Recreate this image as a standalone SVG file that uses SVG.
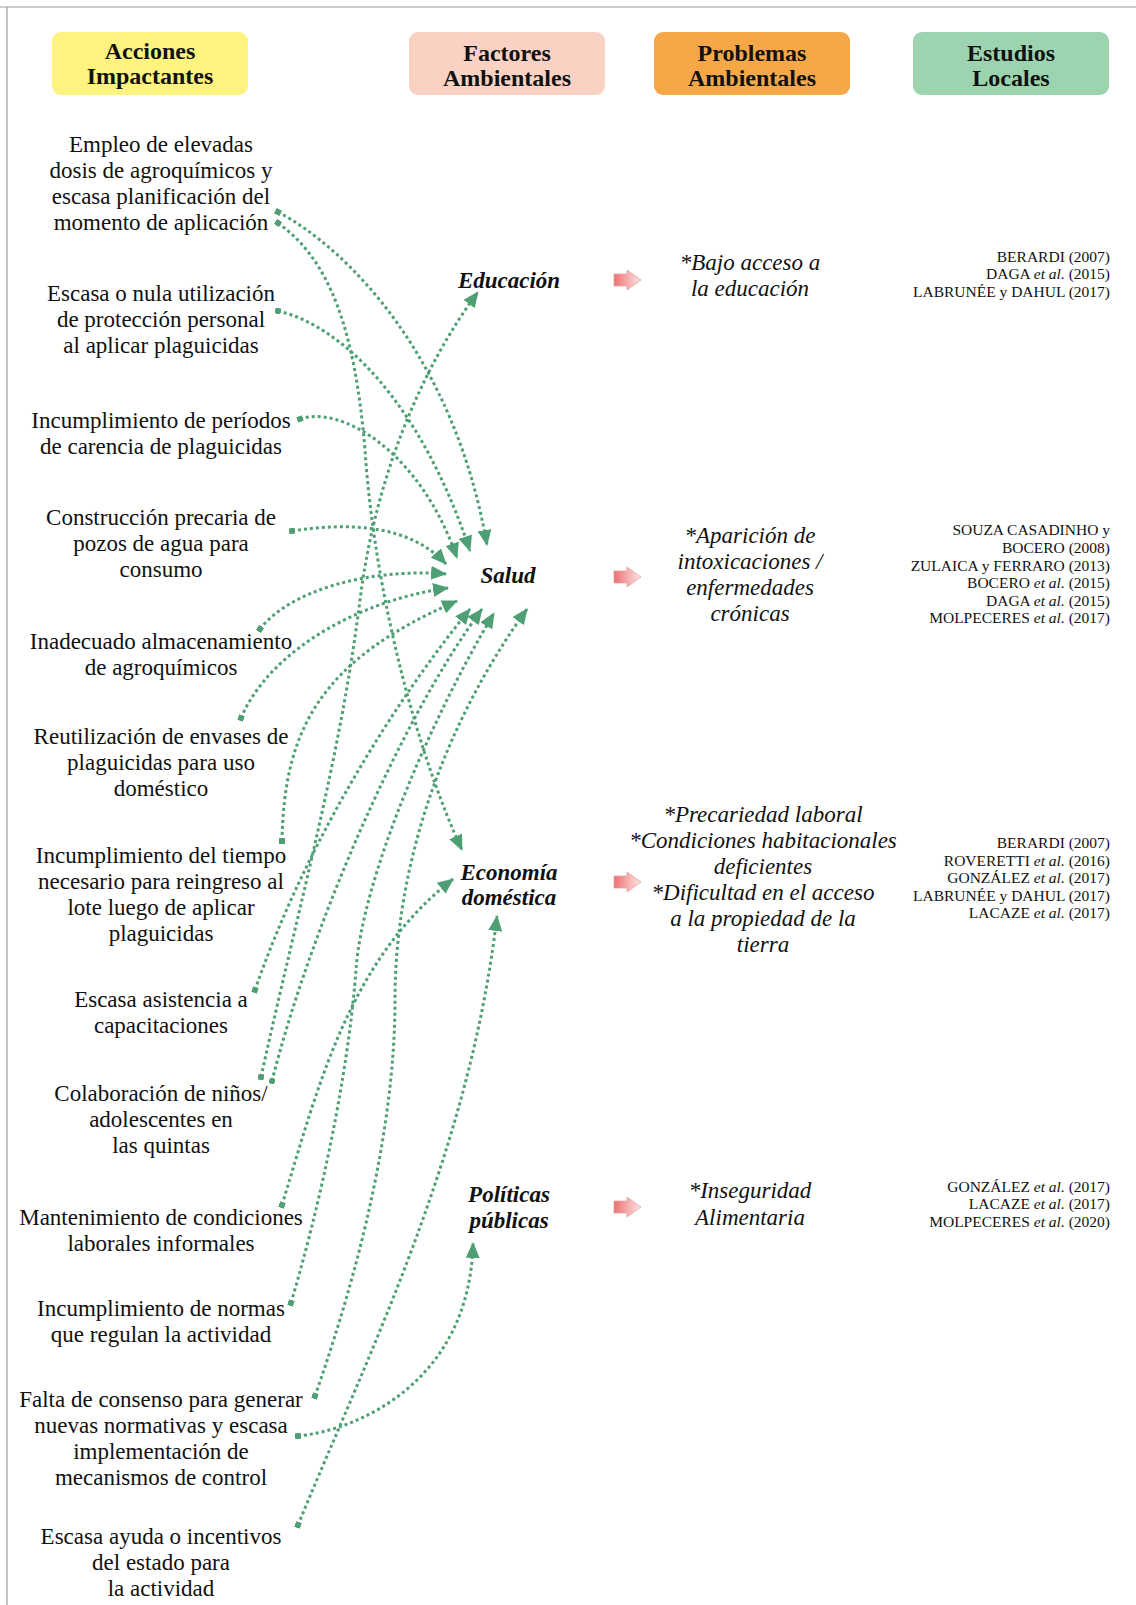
<svg xmlns="http://www.w3.org/2000/svg" width="1136" height="1605" viewBox="0 0 1136 1605">
<defs>
<style>
text{font-family:"Liberation Serif","Times New Roman",serif;fill:#111}
.h{font-size:24px;font-weight:bold;text-anchor:middle}
.t{font-size:23px;text-anchor:middle}
.f{font-size:23px;font-weight:bold;font-style:italic;text-anchor:middle}
.p{font-size:23px;font-style:italic;text-anchor:middle}
.s{font-size:15.5px;text-anchor:end}
.i{font-style:italic}
.c{fill:none;stroke:#4f9f74;stroke-width:3;stroke-dasharray:3 3;marker-start:url(#sq);marker-end:url(#ar)}
.pk{fill:url(#pk);stroke:#e3a2a2;stroke-width:0.8}
.fr{stroke:#9c9c9c;stroke-width:1.2}
</style>
<marker id="ar" viewBox="0 0 16 14" refX="15" refY="7" markerWidth="16" markerHeight="14" markerUnits="userSpaceOnUse" orient="auto"><path d="M0,0L16,7L0,14z" fill="#4f9f74"/></marker>
<marker id="sq" viewBox="0 0 6 6" refX="3" refY="3" markerWidth="6" markerHeight="6" markerUnits="userSpaceOnUse" orient="auto"><rect width="6" height="6" fill="#4f9f74"/></marker>
<linearGradient id="pk" x1="0" x2="1" y1="0" y2="0"><stop offset="0" stop-color="#ee6f6f"/><stop offset="1" stop-color="#fde8e8"/></linearGradient>
<path id="pa" d="M0,-6H13V-10L27,0L13,10V6H0Z"/>
</defs>
<rect width="1136" height="1605" fill="#fff"/>
<line class="fr" x1="0" y1="7" x2="1136" y2="7"/>
<line class="fr" x1="7" y1="7" x2="7" y2="1605"/>

<g id="hdr-acciones"><rect x="52" y="32" width="196" height="63" rx="9" fill="#fff380"/><text class="h" x="150" y="59">Acciones</text><text class="h" x="150" y="84">Impactantes</text></g>
<g id="hdr-factores"><rect x="409" y="32" width="196" height="63" rx="9" fill="#fad2c4"/><text class="h" x="507" y="61">Factores</text><text class="h" x="507" y="86">Ambientales</text></g>
<g id="hdr-problemas"><rect x="654" y="32" width="196" height="63" rx="9" fill="#f6a848"/><text class="h" x="752" y="61">Problemas</text><text class="h" x="752" y="86">Ambientales</text></g>
<g id="hdr-estudios"><rect x="913" y="32" width="196" height="63" rx="9" fill="#9cd4b0"/><text class="h" x="1011" y="61">Estudios</text><text class="h" x="1011" y="86">Locales</text></g>

<g id="act-empleo"><text class="t" x="161" y="152">Empleo de elevadas</text><text class="t" x="161" y="178">dosis de agroquímicos y</text><text class="t" x="161" y="204">escasa planificación del</text><text class="t" x="161" y="230">momento de aplicación</text></g>
<g id="act-proteccion"><text class="t" x="161" y="301">Escasa o nula utilización</text><text class="t" x="161" y="327">de protección personal</text><text class="t" x="161" y="353">al aplicar plaguicidas</text></g>
<g id="act-carencia"><text class="t" x="161" y="428">Incumplimiento de períodos</text><text class="t" x="161" y="454">de carencia de plaguicidas</text></g>
<g id="act-pozos"><text class="t" x="161" y="525">Construcción precaria de</text><text class="t" x="161" y="551">pozos de agua para</text><text class="t" x="161" y="577">consumo</text></g>
<g id="act-almacen"><text class="t" x="161" y="649">Inadecuado almacenamiento</text><text class="t" x="161" y="675">de agroquímicos</text></g>
<g id="act-envases"><text class="t" x="161" y="744">Reutilización de envases de</text><text class="t" x="161" y="770">plaguicidas para uso</text><text class="t" x="161" y="796">doméstico</text></g>
<g id="act-reingreso"><text class="t" x="161" y="863">Incumplimiento del tiempo</text><text class="t" x="161" y="889">necesario para reingreso al</text><text class="t" x="161" y="915">lote luego de aplicar</text><text class="t" x="161" y="941">plaguicidas</text></g>
<g id="act-capacitaciones"><text class="t" x="161" y="1007">Escasa asistencia a</text><text class="t" x="161" y="1033">capacitaciones</text></g>
<g id="act-ninos"><text class="t" x="161" y="1101">Colaboración de niños/</text><text class="t" x="161" y="1127">adolescentes en</text><text class="t" x="161" y="1153">las quintas</text></g>
<g id="act-informales"><text class="t" x="161" y="1225">Mantenimiento de condiciones</text><text class="t" x="161" y="1251">laborales informales</text></g>
<g id="act-normas"><text class="t" x="161" y="1316">Incumplimiento de normas</text><text class="t" x="161" y="1342">que regulan la actividad</text></g>
<g id="act-consenso"><text class="t" x="161" y="1407">Falta de consenso para generar</text><text class="t" x="161" y="1433">nuevas normativas y escasa</text><text class="t" x="161" y="1459">implementación de</text><text class="t" x="161" y="1485">mecanismos de control</text></g>
<g id="act-ayuda"><text class="t" x="161" y="1544">Escasa ayuda o incentivos</text><text class="t" x="161" y="1570">del estado para</text><text class="t" x="161" y="1596">la actividad</text></g>

<g id="fac-educacion"><text class="f" x="509" y="288">Educación</text></g>
<g id="fac-salud"><text class="f" x="508" y="583">Salud</text></g>
<g id="fac-economia"><text class="f" x="509" y="880">Economía</text><text class="f" x="509" y="905">doméstica</text></g>
<g id="fac-politicas"><text class="f" x="509" y="1202">Políticas</text><text class="f" x="509" y="1228">públicas</text></g>

<g id="prob-educacion"><use href="#pa" x="614" y="280" class="pk"/><text class="p" x="750" y="270">*Bajo acceso a</text><text class="p" x="750" y="296">la educación</text></g>
<g id="prob-salud"><use href="#pa" x="614" y="577" class="pk"/><text class="p" x="750" y="543">*Aparición de</text><text class="p" x="750" y="569">intoxicaciones /</text><text class="p" x="750" y="595">enfermedades</text><text class="p" x="750" y="621">crónicas</text></g>
<g id="prob-economia"><use href="#pa" x="614" y="882" class="pk"/><text class="p" x="763" y="822">*Precariedad laboral</text><text class="p" x="763" y="848">*Condiciones habitacionales</text><text class="p" x="763" y="874">deficientes</text><text class="p" x="763" y="900">*Dificultad en el acceso</text><text class="p" x="763" y="926">a la propiedad de la</text><text class="p" x="763" y="952">tierra</text></g>
<g id="prob-politicas"><use href="#pa" x="614" y="1207" class="pk"/><text class="p" x="750" y="1198">*Inseguridad</text><text class="p" x="750" y="1225">Alimentaria</text></g>

<g id="est-educacion"><text class="s" x="1110" y="262">BERARDI (2007)</text><text class="s" x="1110" y="279">DAGA <tspan class="i">et al.</tspan> (2015)</text><text class="s" x="1110" y="297">LABRUNÉE y DAHUL (2017)</text></g>
<g id="est-salud"><text class="s" x="1110" y="535">SOUZA CASADINHO y</text><text class="s" x="1110" y="553">BOCERO (2008)</text><text class="s" x="1110" y="571">ZULAICA y FERRARO (2013)</text><text class="s" x="1110" y="588">BOCERO <tspan class="i">et al.</tspan> (2015)</text><text class="s" x="1110" y="606">DAGA <tspan class="i">et al.</tspan> (2015)</text><text class="s" x="1110" y="623">MOLPECERES <tspan class="i">et al.</tspan> (2017)</text></g>
<g id="est-economia"><text class="s" x="1110" y="848">BERARDI (2007)</text><text class="s" x="1110" y="866">ROVERETTI <tspan class="i">et al.</tspan> (2016)</text><text class="s" x="1110" y="883">GONZÁLEZ <tspan class="i">et al.</tspan> (2017)</text><text class="s" x="1110" y="901">LABRUNÉE y DAHUL (2017)</text><text class="s" x="1110" y="918">LACAZE <tspan class="i">et al.</tspan> (2017)</text></g>
<g id="est-politicas"><text class="s" x="1110" y="1192">GONZÁLEZ <tspan class="i">et al.</tspan> (2017)</text><text class="s" x="1110" y="1209">LACAZE <tspan class="i">et al.</tspan> (2017)</text><text class="s" x="1110" y="1227">MOLPECERES <tspan class="i">et al.</tspan> (2020)</text></g>

<g id="connectors">
<path class="c" d="M278,212 C350,250 455,360 487,545"/>
<path class="c" d="M278,223 C330,260 355,330 365,450 C375,600 420,760 462,850"/>
<path class="c" d="M278,311 C340,325 420,400 470,551"/>
<path class="c" d="M300,419 C340,405 420,450 457,558"/>
<path class="c" d="M292,531 C350,522 410,525 446,564"/>
<path class="c" d="M260,629 C290,590 370,568 446,574"/>
<path class="c" d="M241,718 C270,650 360,600 448,588"/>
<path class="c" d="M282,841 C284,730 320,660 457,601"/>
<path class="c" d="M255,990 C300,860 380,720 470,609"/>
<path class="c" d="M261,1077 C300,900 340,760 360,600 C375,480 420,370 478,292"/>
<path class="c" d="M272,1081 C310,930 400,720 482,609"/>
<path class="c" d="M282,1205 C320,1080 350,960 453,879"/>
<path class="c" d="M291,1303 C330,1170 350,1050 356,970 C362,880 430,720 494,613"/>
<path class="c" d="M315,1396 C345,1310 395,1150 395,1000 C395,870 440,730 527,609"/>
<path class="c" d="M298,1436 C360,1430 470,1380 473,1243"/>
<path class="c" d="M298,1525 C370,1350 470,1150 497,916"/>
</g>
</svg>
